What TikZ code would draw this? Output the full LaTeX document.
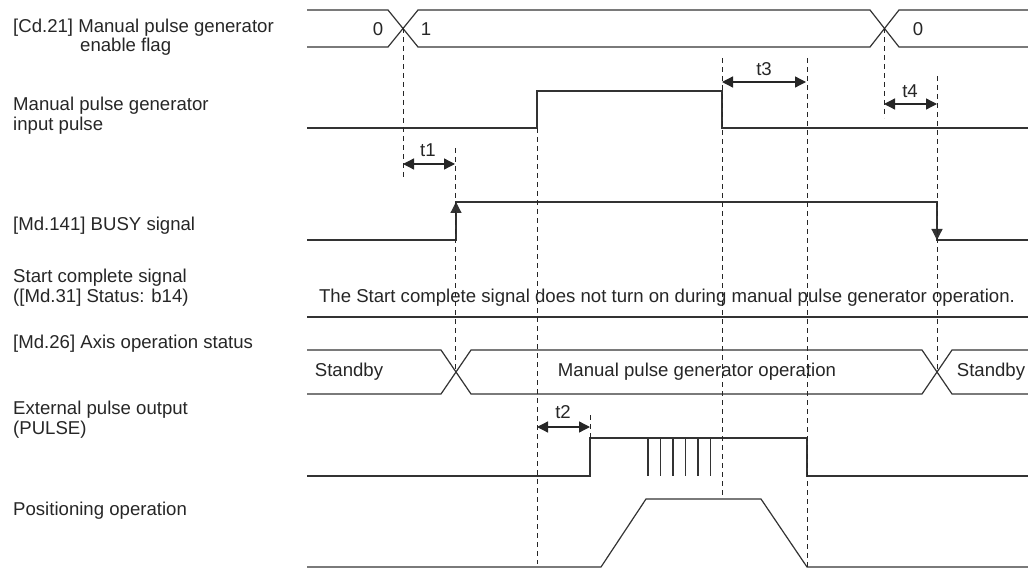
\documentclass[tikz,border=0pt]{standalone}
\usepackage{fontspec}
\setmainfont{Liberation Sans}
\usetikzlibrary{arrows.meta,positioning}

\begin{document}
\begin{tikzpicture}[
   x=1pt, y=-1pt, >={Triangle[length=11pt,width=11pt]},
   font=\fontsize{18.6}{20}\selectfont,
   sig/.style={line width=1.2pt, black!80},
   guide/.style={line width=1pt, black!85, dash pattern=on 5pt off 4pt},
   dim/.style={<->, line width=1.3pt, black!85},
   lbl/.style={anchor=west, align=left, inner sep=0pt, text=black!85},
   val/.style={inner sep=0pt, text=black!85}]
  \useasboundingbox (0,0) rectangle (1028,572);
  % signal names
  \node[lbl] (cdflag)  at (13,28)  {[Cd.21] Manual pulse generator};
  \node[lbl] (cdflag2) at (80,47)  {enable flag};
  \node[lbl] (inpulse) at (13,116) {Manual pulse generator\\input pulse};
  \node[lbl] (busy)    at (13,226) {[Md.141] BUSY signal};
  \node[lbl] (startok) at (13,288) {Start complete signal\\([Md.31] Status: b14)};
  \node[lbl] (axstat)  at (13,344) {[Md.26] Axis operation status};
  \node[lbl] (pulseout) at (13,420) {External pulse output\\(PULSE)};
  \node[lbl] (posop)   at (13,511) {Positioning operation};
  % enable flag
  \draw[sig] (307,10) -- (388,10) -- (418,47) -- (870,47) -- (899,10) -- (1028,10);
  \draw[sig] (307,47) -- (388,47) -- (418,10) -- (870,10) -- (899,47) -- (1028,47);
  \node[val] (flag0) at (378,29) {0};
  \node[val] (flag1) at (426,29) {1};
  \node[val] (flag0b) at (918,29) {0};
  % input pulse
  \draw[sig] (307,128) -- (537,128) -- (537,91) -- (722,91) -- (722,128) -- (1028,128);
  % BUSY
  \draw[sig] (307,240) -- (456,240) -- (456,202) -- (937,202) -- (937,240) -- (1028,240);
  \draw[sig, ->] (456,225) -- (456,202);
  \draw[sig, ->] (937,220) -- (937,240);
  % start complete
  \draw[sig] (307,317) -- (1028,317);
  \node[val] (nostart) at (667,298)
    {The Start complete signal does not turn on during manual pulse generator operation.};
  % axis operation status
  \draw[sig] (307,350) -- (441,350) -- (471,394) -- (922,394) -- (952,350) -- (1028,350);
  \draw[sig] (307,394) -- (441,394) -- (471,350) -- (922,350) -- (952,394) -- (1028,394);
  \node[val] (stby1) at (349,372) {Standby};
  \node[val] (mpgop) at (697,372) {Manual pulse generator operation};
  \node[val] (stby2) at (991,372) {Standby};
  % external pulse output
  \draw[sig] (307,476) -- (590,476) -- (590,438) -- (807,438) -- (807,476) -- (1028,476);
  \foreach \px in {648,660.5,673,685.5,698,710.5}
    \draw[sig] (\px,438) -- (\px,476);
  % positioning operation
  \draw[sig] (307,567) -- (601,567) -- (646,499) -- (761,499) -- (807,567) -- (1028,567);
  % timing guides
  \draw[guide] (403,28)  -- (403,178);
  \draw[guide] (455,148) -- (455,372);
  \draw[guide] (537,128) -- (537,564);
  \draw[guide] (590,415) -- (590,438);
  \draw[guide] (722,58)  -- (722,497);
  \draw[guide] (807,58)  -- (807,567);
  \draw[guide] (884,28)  -- (884,118);
  \draw[guide] (937,76)  -- (937,372);
  % delays
  \draw[dim] (403,164) -- (455,164);
  \node[val] (t1) at (428,150) {t1};
  \draw[dim] (722,82) -- (806,82);
  \node[val] (t3) at (764,69) {t3};
  \draw[dim] (884,104) -- (937,104);
  \node[val] (t4) at (910,91) {t4};
  \draw[dim] (537,427) -- (590,427);
  \node[val] (t2) at (563,412) {t2};
\end{tikzpicture}
\end{document}
